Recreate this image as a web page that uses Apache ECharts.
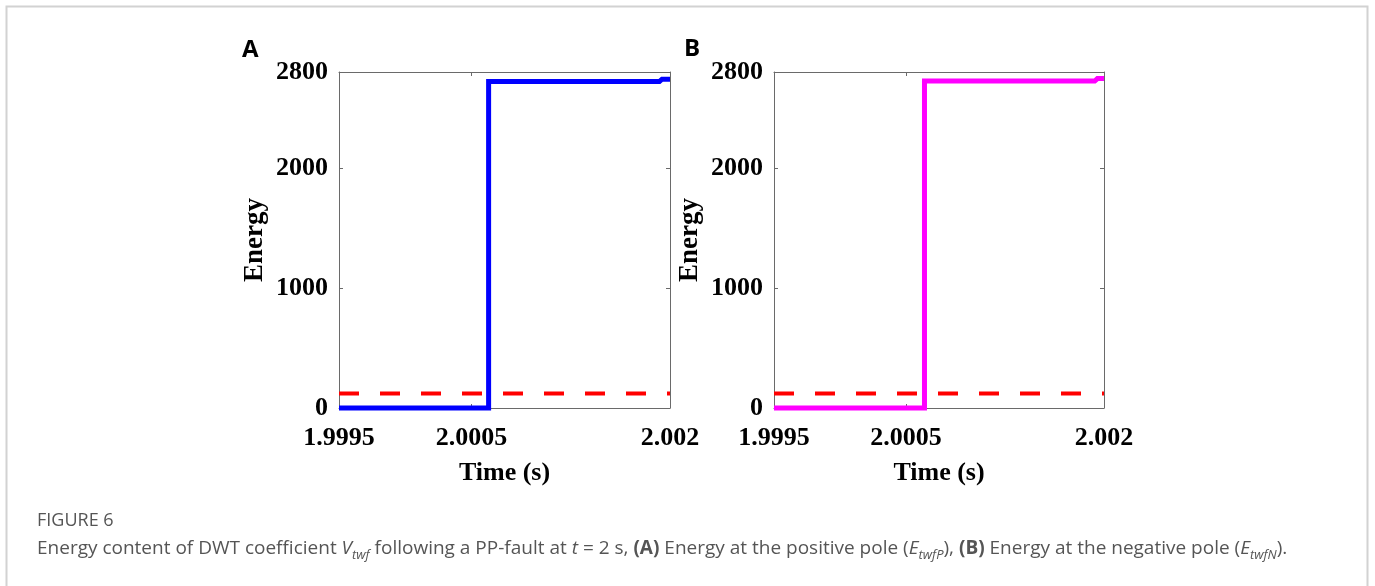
<!DOCTYPE html>
<html lang="en">
<head>
    <meta charset="UTF-8">
    <title>Figure 6 - Energy content of DWT coefficient</title>
    <script src="https://cdn.jsdelivr.net/npm/echarts/dist/echarts.min.js"></script>
    <style>
        html, body { margin: 0; padding: 0; background: #ffffff; }
        #chart { width: 1375px; height: 586px; }
    </style>
</head>
<body>
    <div id="chart"></div>
    <script>
        // tick labels
        const timeTicks = [1.9995, 2.0005, 2.002];
        const energyTicks = [0, 1000, 2000, 2800];

        // (A) positive pole energy
        const posTime = [1.9995, 2.00063, 2.00063, 2.00192, 2.00194, 2.002];
        const posEnergy = [0, 0, 2720, 2720, 2740, 2740];

        // (B) negative pole energy
        const negTime = [1.9995, 2.00064, 2.00064, 2.00193, 2.00195, 2.002];
        const negEnergy = [0, 0, 2725, 2725, 2745, 2745];

        // threshold (red dashed)
        const thrTime = [1.9995, 2.002];
        const thrEnergy = [120, 120];

        const serif = '"Liberation Serif", "Times New Roman", serif';
        const axisGrey = '#6a6a6a';

        function pairs(xs, ys) {
            return xs.map((x, i) => [x, ys[i]]);
        }

        function xAxes(gridIndex) {
            return [
                {
                    gridIndex: gridIndex,
                    type: 'value',
                    position: 'bottom',
                    min: timeTicks[0],
                    max: timeTicks[timeTicks.length - 1],
                    name: 'Time (s)',
                    nameLocation: 'middle',
                    nameGap: 52,
                    nameTextStyle: { fontFamily: serif, fontWeight: 'bold', fontSize: 26, color: '#000' },
                    axisLine: { onZero: false, lineStyle: { color: axisGrey, width: 1 } },
                    axisTick: { inside: true, length: 4, customValues: timeTicks, lineStyle: { color: axisGrey } },
                    axisLabel: {
                        customValues: timeTicks,
                        margin: 17,
                        fontFamily: serif, fontWeight: 'bold', fontSize: 26, color: '#000',
                        formatter: v => String(v)
                    },
                    splitLine: { show: false }
                },
                {
                    gridIndex: gridIndex,
                    type: 'value',
                    position: 'top',
                    min: timeTicks[0],
                    max: timeTicks[timeTicks.length - 1],
                    axisLine: { onZero: false, lineStyle: { color: axisGrey, width: 1 } },
                    axisTick: { inside: true, length: 4, customValues: timeTicks, lineStyle: { color: axisGrey } },
                    axisLabel: { show: false },
                    splitLine: { show: false }
                }
            ];
        }

        function yAxes(gridIndex) {
            return [
                {
                    gridIndex: gridIndex,
                    type: 'value',
                    position: 'left',
                    min: energyTicks[0],
                    max: energyTicks[energyTicks.length - 1],
                    name: 'Energy',
                    nameLocation: 'middle',
                    nameGap: 70,
                    nameMoveOverlap: false,
                    nameTextStyle: { fontFamily: serif, fontWeight: 'bold', fontSize: 27, color: '#000' },
                    axisLine: { show: true, onZero: false, lineStyle: { color: axisGrey, width: 1 } },
                    axisTick: { show: true, inside: true, length: 4, customValues: energyTicks, lineStyle: { color: axisGrey } },
                    axisLabel: {
                        customValues: energyTicks,
                        margin: 11,
                        fontFamily: serif, fontWeight: 'bold', fontSize: 26, color: '#000',
                        formatter: v => String(v)
                    },
                    splitLine: { show: false }
                },
                {
                    gridIndex: gridIndex,
                    type: 'value',
                    position: 'right',
                    min: energyTicks[0],
                    max: energyTicks[energyTicks.length - 1],
                    axisLine: { show: true, onZero: false, lineStyle: { color: axisGrey, width: 1 } },
                    axisTick: { show: true, inside: true, length: 4, customValues: energyTicks, lineStyle: { color: axisGrey } },
                    axisLabel: { show: false },
                    splitLine: { show: false }
                }
            ];
        }

        function energySeries(idx, xs, ys, color) {
            return {
                type: 'line',
                xAxisIndex: idx * 2,
                yAxisIndex: idx * 2,
                data: pairs(xs, ys),
                symbol: 'none',
                clip: false,
                z: 3,
                lineStyle: { color: color, width: 5, join: 'miter' }
            };
        }

        function thresholdSeries(idx) {
            return {
                type: 'line',
                xAxisIndex: idx * 2,
                yAxisIndex: idx * 2,
                data: pairs(thrTime, thrEnergy),
                symbol: 'none',
                z: 4,
                lineStyle: { color: '#ff0000', width: 4, type: [20, 21] }
            };
        }

        const captionFont = '"Open Sans", "Noto Sans", sans-serif';
        const captionGrey = '#555555';
        const captionText =
            '{n|Energy content of DWT coefficient }{i|V}{s|twf}{n| following a PP-fault at }{i|t}' +
            '{n| = 2 s, }{b|(A)}{n| Energy at the positive pole (}{i|E}{s|twfP}{n|), }' +
            '{b|(B)}{n| Energy at the negative pole (}{i|E}{s|twfN}{n|).}';

        let option = {
            backgroundColor: '#ffffff',
            animation: false,
            grid: [
                { left: 339, top: 72, width: 331, height: 336 },
                { left: 774, top: 72, width: 330, height: 336 }
            ],
            xAxis: [...xAxes(0), ...xAxes(1)],
            yAxis: [...yAxes(0), ...yAxes(1)],
            series: [
                energySeries(0, posTime, posEnergy, '#0000ff'),
                thresholdSeries(0),
                energySeries(1, negTime, negEnergy, '#ff00ff'),
                thresholdSeries(1)
            ],
            graphic: [
                {
                    type: 'rect',
                    shape: { x: 6.5, y: 6.5, width: 1361, height: 640 },
                    style: { fill: 'none', stroke: '#d2d2d2', lineWidth: 2 },
                    silent: true
                },
                {
                    type: 'text', x: 242, y: 38,
                    style: { text: 'A', font: 'bold 24px "Open Sans", sans-serif', fill: '#000' }
                },
                {
                    type: 'text', x: 684, y: 37,
                    style: { text: 'B', font: 'bold 24px "Open Sans", sans-serif', fill: '#000' }
                },
                {
                    type: 'text', x: 37, y: 512,
                    style: { text: 'FIGURE 6', font: '18px ' + captionFont, fill: captionGrey }
                },
                {
                    type: 'text', x: 37, y: 536,
                    style: {
                        text: captionText,
                        rich: {
                            n: { fontFamily: captionFont, fontSize: 19, lineHeight: 26, fill: captionGrey },
                            i: { fontFamily: captionFont, fontSize: 19, lineHeight: 26, fontStyle: 'italic', fill: captionGrey },
                            b: { fontFamily: captionFont, fontSize: 19, lineHeight: 26, fontWeight: 'bold', fill: captionGrey },
                            s: { fontFamily: captionFont, fontSize: 13, lineHeight: 14, fontStyle: 'italic', fill: captionGrey, verticalAlign: 'bottom' }
                        }
                    }
                }
            ]
        };

        let chart = echarts.init(document.getElementById('chart'));
        chart.setOption(option);
    </script>
</body>
</html>
